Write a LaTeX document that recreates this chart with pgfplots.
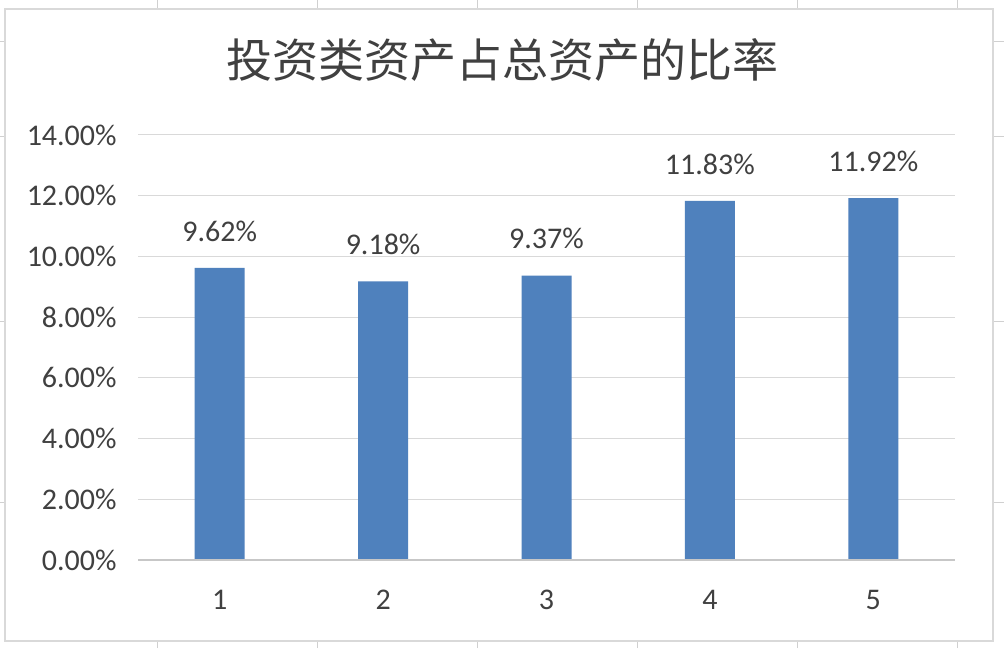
\documentclass[border=0pt]{standalone}
\usepackage{pgfplots}
\pgfplotsset{compat=1.18}
\usepackage{fontspec}
\setmainfont{Carlito}
\newfontfamily\cjk{Noto Sans CJK SC}
\definecolor{barblue}{HTML}{4F81BD}
\definecolor{gridgray}{HTML}{D9D9D9}
\definecolor{txtgray}{HTML}{404040}
\definecolor{cellgray}{HTML}{D0D0D0}

\begin{document}
\begin{tikzpicture}
  \path[use as bounding box] (0,0) rectangle (502pt,324pt);
  \fill[white] (0,0) rectangle (502pt,324pt);
  % spreadsheet cell borders around the chart
  \foreach \x in {78.5,158.5,238.5,318.5,398.5,478.5} {
    \draw[cellgray, line width=0.5pt] (\x pt,319.5pt) -- (\x pt,324pt);
    \draw[cellgray, line width=0.5pt] (\x pt,0pt) -- (\x pt,3.5pt);
  }
  \foreach \y in {303,255.5,163,73} {
    \draw[cellgray, line width=0.5pt] (0pt,\y pt) -- (2.5pt,\y pt);
    \draw[cellgray, line width=0.5pt] (496.5pt,\y pt) -- (502pt,\y pt);
  }
  % chart frame
  \draw[gridgray, line width=0.6pt] (2.5pt,3.5pt) rectangle (496.5pt,319.5pt);
  \node[font=\cjk\fontsize{23}{26}\selectfont, text=txtgray] at (251pt,294pt) {投资类资产占总资产的比率};

  \begin{axis}[
      at={(69pt,44pt)}, anchor=south west,
      scale only axis,
      width=408.5pt, height=212.5pt,
      xmin=0.5, xmax=5.5,
      ymin=0, ymax=14,
      xtick={1,2,3,4,5},
      xticklabels={1,2,3,4,5},
      ytick={0,2,4,6,8,10,12,14},
      yticklabels={0.00\%,2.00\%,4.00\%,6.00\%,8.00\%,10.00\%,12.00\%,14.00\%},
      major tick length=0pt,
      axis line style={draw=none},
      ymajorgrids,
      major grid style={gridgray, line width=0.5pt},
      tick label style={font=\fontsize{15}{18}\selectfont, text=txtgray, inner sep=0pt},
      yticklabel style={anchor=east, xshift=-10.5pt},
      xticklabel style={anchor=north, yshift=-15pt},
      /pgf/number format/assume math mode=true,
      ybar, bar width=25pt,
      point meta=explicit symbolic,
      nodes near coords,
      every node near coord/.append style={font=\fontsize{15}{18}\selectfont, text=txtgray, inner sep=0pt, anchor=south, yshift=13pt},
    ]
    \addplot[fill=barblue, draw=none] coordinates {
      (1, 9.62) [9.62\%]
      (2, 9.18) [9.18\%]
      (3, 9.37) [9.37\%]
      (4, 11.83) [11.83\%]
      (5, 11.92) [11.92\%]
    };
    \draw[gridgray!80!gray, line width=0.6pt] (axis cs:0.5,0) -- (axis cs:5.5,0);
  \end{axis}
\end{tikzpicture}
\end{document}
